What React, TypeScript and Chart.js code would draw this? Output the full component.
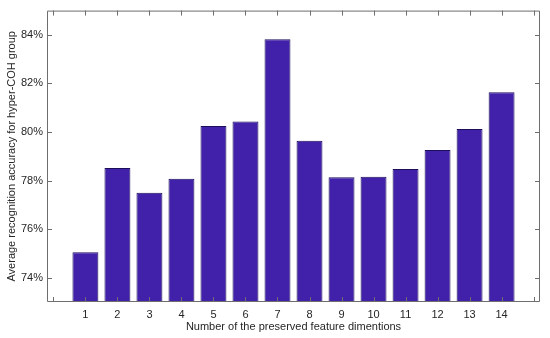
import React, { useEffect, useRef } from "react";
import { Chart, registerables } from "chart.js";

Chart.register(...registerables);

const categories = [1, 2, 3, 4, 5, 6, 7, 8, 9, 10, 11, 12, 13, 14];
const accuracy = [75.05, 78.52, 77.5, 78.08, 80.25, 80.43, 83.82, 79.64, 78.14, 78.16, 78.48, 79.26, 80.12, 81.64];
const yTickValues = [74, 76, 78, 80, 82, 84];
const xTickValues = [0, 1, 2, 3, 4, 5, 6, 7, 8, 9, 10, 11, 12, 13, 14, 15];
const xTitle = "Number of the preserved feature dimentions";
const yTitle = "Average recognition accuracy for hyper-COH group";

const FONT = "'Liberation Sans', Arial, Helvetica, sans-serif";
const TEXT = "#262626";
const AXIS = "#6e6e6e";

const boxPlugin = {
  id: "matlabBox",
  afterDraw(chart: any) {
    const { ctx, chartArea } = chart;
    const xs = chart.scales.x;
    const ys = chart.scales.y;
    const { left, right, top, bottom } = chartArea;
    ctx.save();
    ctx.strokeStyle = AXIS;
    ctx.lineWidth = 1;
    ctx.beginPath();
    ctx.rect(left + 0.5, top + 0.5, right - left - 1, bottom - top - 1);
    ctx.stroke();
    const len = 5;
    ctx.beginPath();
    for (const v of xTickValues) {
      const px = Math.round(xs.getPixelForValue(v)) + 0.5;
      if (px < left || px > right) continue;
      ctx.moveTo(px, bottom);
      ctx.lineTo(px, bottom - len);
      ctx.moveTo(px, top);
      ctx.lineTo(px, top + len);
    }
    for (const v of yTickValues) {
      const py = Math.round(ys.getPixelForValue(v)) + 0.5;
      ctx.moveTo(left, py);
      ctx.lineTo(left + len, py);
      ctx.moveTo(right, py);
      ctx.lineTo(right - len, py);
    }
    ctx.stroke();
    // axis titles
    ctx.fillStyle = TEXT;
    ctx.font = `11px ${FONT}`;
    ctx.textAlign = "center";
    ctx.textBaseline = "middle";
    ctx.fillText(xTitle, (left + right) / 2, 327);
    ctx.translate(12, (top + bottom) / 2);
    ctx.rotate(-Math.PI / 2);
    ctx.fillText(yTitle, 0, 0);
    ctx.restore();
  },
};

export default function App() {
  const ref = useRef<HTMLCanvasElement | null>(null);
  useEffect(() => {
    document.body.style.margin = "0";
    const canvas = ref.current;
    if (!canvas) return;
    const chart = new Chart(canvas, {
      type: "bar",
      data: {
        datasets: [
          {
            data: categories.map((c, i) => ({ x: c, y: accuracy[i] })),
            backgroundColor: "#4121AA",
            borderColor: "#1c0f5a",
            borderWidth: 1,
            barPercentage: 0.81,
            categoryPercentage: 1,
          },
        ],
      },
      options: {
        animation: false,
        responsive: false,
        maintainAspectRatio: false,
        layout: { padding: { left: 0, right: 10, top: 9, bottom: 0 } },
        plugins: { legend: { display: false }, tooltip: { enabled: false } },
        scales: {
          x: {
            type: "linear",
            offset: false,
            min: -0.2,
            max: 15.2,
            grid: { display: false, drawTicks: false },
            border: { display: false },
            afterBuildTicks: (s: any) => {
              s.ticks = categories.map((v) => ({ value: v }));
            },
            ticks: {
              autoSkip: false,
              maxRotation: 0,
              padding: 6,
              color: TEXT,
              font: { family: FONT, size: 11 },
              callback: (v: any) => String(v),
            },
            afterFit: (s: any) => {
              s.height = 36;
            },
          },
          y: {
            min: 73,
            max: 85,
            grid: { display: false, drawTicks: false },
            border: { display: false },
            afterBuildTicks: (s: any) => {
              s.ticks = yTickValues.map((v) => ({ value: v }));
            },
            ticks: {
              padding: 4,
              color: TEXT,
              font: { family: FONT, size: 11 },
              callback: (v: any) => v + "%",
            },
            afterFit: (s: any) => {
              s.width = 47;
            },
          },
        },
      },
      plugins: [boxPlugin],
    } as any);
    return () => chart.destroy();
  }, []);
  return (
    <div style={{ width: 550, height: 338, background: "#fff" }}>
      <canvas ref={ref} width={550} height={338} style={{ width: 550, height: 338 }} />
    </div>
  );
}
